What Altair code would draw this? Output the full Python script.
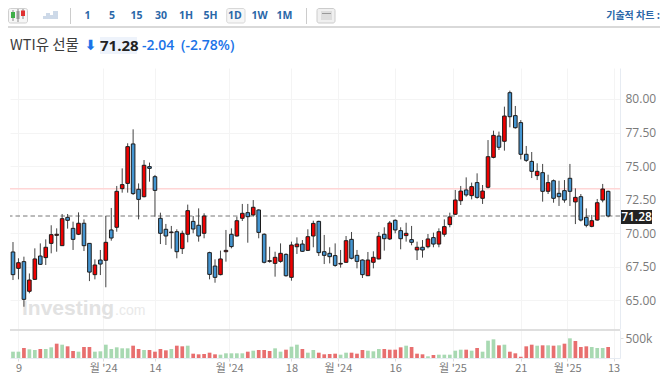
import json
import altair as alt
import pandas as pd

OPEN = [68.60,67.38,67.88,65.67,66.56,68.30,68.18,69.24,69.84,69.07,
        71.18,70.36,69.92,70.74,69.24,66.91,68.00,67.98,70.24,70.44,
        73.32,73.71,76.65,73.27,72.72,74.96,74.21,71.11,70.29,70.04,
        70.11,68.85,69.92,70.88,70.59,69.99,68.55,67.55,66.91,68.62,
        69.92,69.79,71.11,71.53,71.36,71.73,69.92,67.90,67.75,67.90,
        68.42,66.71,68.99,69.19,68.72,69.79,70.88,68.62,68.50,68.33,
        67.70,67.83,69.54,68.35,68.00,66.83,67.83,68.08,69.92,69.57,
        70.96,70.19,69.82,69.52,68.75,68.95,68.99,69.67,69.19,69.92,
        70.64,71.41,72.42,73.22,72.80,73.77,72.60,73.42,75.65,77.24,
        76.85,80.47,78.76,78.24,75.88,75.35,74.29,74.51,73.12,73.91,
        72.97,73.17,74.09,72.33,72.72,71.18,70.51,70.98,72.47,73.12]
CLOSE = [66.91,67.80,65.07,66.51,68.08,67.68,68.95,69.89,69.92,71.08,
         70.96,69.54,70.74,69.07,67.10,67.63,67.70,69.32,69.64,73.12,
         73.62,76.45,72.95,72.52,75.06,74.83,73.19,69.99,69.79,70.09,
         68.62,69.99,71.68,70.31,69.79,71.28,66.93,66.71,68.08,68.72,
         69.00,70.93,71.48,71.23,71.93,70.06,67.83,67.95,68.20,68.50,
         66.83,69.12,69.19,68.65,69.74,70.73,68.55,68.35,68.25,67.60,
         67.75,69.44,68.13,67.90,66.91,68.00,68.20,69.77,69.59,70.76,
         70.24,69.59,69.99,69.32,68.95,68.75,69.57,69.19,70.11,70.49,
         71.21,72.47,73.14,72.85,73.47,72.67,73.14,75.70,77.29,76.40,
         78.73,78.68,77.86,75.88,75.43,74.61,74.61,73.12,73.77,72.60,
         72.72,72.47,73.12,72.67,70.98,70.59,70.93,72.27,73.29,71.28]
HIGH = [69.34,68.13,68.25,67.00,68.87,69.24,69.54,70.59,70.36,71.43,
        71.43,70.86,71.55,71.03,69.24,68.05,68.75,71.28,71.88,73.52,
        74.83,76.70,77.74,73.71,75.45,75.26,74.34,71.53,70.69,70.54,
        70.29,70.19,72.13,71.28,71.85,71.48,68.62,68.05,68.70,70.24,
        70.36,71.23,72.18,72.18,72.47,71.78,69.99,68.99,68.62,69.24,
        68.50,69.37,69.69,69.49,70.29,70.93,70.93,69.87,68.95,69.24,
        68.75,69.79,70.09,68.75,68.05,68.60,68.65,70.09,70.44,70.91,
        71.03,70.44,70.78,70.54,69.37,69.49,69.94,70.04,70.36,71.03,
        71.53,73.22,73.52,74.16,73.77,74.46,73.59,76.94,77.64,77.57,
        79.43,80.62,79.48,78.43,76.50,76.05,75.21,75.16,74.36,74.00,
        73.91,73.96,75.16,73.34,72.92,71.85,71.36,72.55,73.67,73.17]
LOW = [66.51,66.56,64.52,65.52,66.51,67.63,67.63,68.50,68.62,69.05,
       70.34,68.75,69.86,68.67,66.43,66.56,66.88,65.97,69.44,70.11,
       73.02,73.02,72.85,71.03,72.67,73.84,71.23,69.19,69.12,68.85,
       68.13,68.45,69.32,69.99,69.37,69.62,66.56,66.31,66.86,67.88,
       68.87,69.74,70.91,69.29,71.23,69.62,67.75,67.80,66.76,67.80,
       66.76,66.46,68.45,68.60,68.67,68.95,68.30,67.70,67.75,67.50,
       67.43,67.80,68.05,67.38,66.66,66.81,67.38,68.05,68.70,69.49,
       69.99,68.80,69.37,69.10,68.00,68.18,68.87,68.95,68.95,69.74,
       70.44,71.36,72.10,72.72,72.52,72.57,72.18,73.34,75.58,76.20,
       76.15,77.89,77.79,75.50,75.31,74.11,73.96,72.35,72.92,72.27,
       72.03,72.27,72.03,70.68,70.88,70.44,70.44,70.93,72.30,71.18]
VOLUME_K = [158,158,250,217,200,225,225,267,358,333,
            292,175,158,275,275,158,167,333,225,267,
            242,242,308,225,200,200,158,225,192,225,
            308,292,308,108,92,100,133,92,83,117,
            117,117,117,158,183,200,200,175,242,158,
            208,283,333,225,133,200,133,92,100,108,
            83,133,133,108,200,183,167,225,225,208,
            208,267,308,275,108,92,42,75,83,83,
            83,183,208,208,183,250,158,433,467,317,
            333,158,117,33,292,333,308,317,317,308,
            317,358,492,425,275,292,275,250,250,275]
VOLUME_DIR = list("ggrggrggrg" "rrgrrggggg" "ggrrgrrrrg" "rrgrrrrrgg"
                  "gggrgrrrgg" "rggrggrrrr" "ggrrrgggrr" "rrgrrrgrgg"
                  "gggrgrggg" "r" "grrrrrgrgr" "grgrrrgggr")
TICK_POS = [1, 16.5, 26, 39.6, 51, 59.5, 70, 80.5, 93, 101.5, 110]
TICK_LABELS = ["9", "월 '24", "14", "월 '24", "18", "월 '24", "16", "월 '25", "21", "월 '25", "13"]
PRICE_TICKS = [65, 67.5, 70, 72.5, 75, 77.5, 80]
LAST_PRICE = 71.28
REF_PRICE = 73.32

KR = "Noto Sans CJK KR"
NUM = "Open Sans"
GRID = "#f4f4f4"
AXIS = "#e6ebf2"
LBL = "#7a7a7a"
ONE = alt.Data(values=[{}])

df = pd.DataFrame({"i": range(len(OPEN)), "o": OPEN, "h": HIGH, "l": LOW, "c": CLOSE,
                   "v": [v * 1000 for v in VOLUME_K], "vd": VOLUME_DIR})
df["up"] = df["c"] >= df["o"]

W, H = 610, 261
xs = alt.Scale(domain=[-0.549, 111.17], nice=False, zero=False, padding=0)
ys = alt.Scale(domain=[62.86, 82.31], nice=False, zero=False, padding=0)
vs = alt.Scale(domain=[0, 700000], nice=False, zero=False, padding=0)
label_expr = json.dumps({str(p): t for p, t in zip(TICK_POS, TICK_LABELS)}, ensure_ascii=False) + "[datum.value]"


# header helpers: page coordinates, minus the 8px page margin
def txt(s, px, py, size=12, color="#333333", weight="normal", font=KR, align="left"):
    return alt.Chart(ONE).mark_text(fontSize=size, color=color, fontWeight=weight, font=font,
                                    align=align, baseline="middle").encode(
        x=alt.value(px - 10), y=alt.value(py - 8), text=alt.value(s))


def box(x0, y0, x1, y1, fill, stroke=None, r=0):
    kw = {"fill": fill, "cornerRadius": r}
    if stroke:
        kw.update(stroke=stroke, strokeWidth=1)
    return alt.Chart(ONE).mark_rect(**kw).encode(
        x=alt.value(x0 - 10), x2=alt.value(x1 - 10), y=alt.value(y0 - 8), y2=alt.value(y1 - 8))


BLUEBTN = "#2a67a8"
header = [
    box(8, 26.5, 660, 27.5, "#b4b4b4"),
    box(8.5, 8.5, 27.5, 23, "#f6f6f6", "#cfcfcf", 2),
    box(12.5, 10, 13.5, 21, "#8a8a8a"), box(11, 12, 15, 18, "#3fae49"),
    box(17.5, 9, 18.5, 22, "#8a8a8a"), box(16.5, 11, 19.5, 19, "#9a9a9a"),
    box(22.5, 9, 23.5, 19, "#8a8a8a"), box(21, 10.5, 25, 16, "#e03030"),
    box(43, 16, 46, 19, "#cdd9e8"), box(46, 13, 50, 19, "#cdd9e8"),
    box(50, 15, 53, 19, "#cdd9e8"), box(53, 11, 58, 19, "#cdd9e8"),
    box(70, 8, 71, 24, "#cccccc"), box(306, 8, 307, 24, "#cccccc"),
    box(226.7, 8.5, 245, 23, "#f6f6f6", "#d8d8d8", 2),
    box(317, 8.5, 335, 23, "#f0f0f0", "#cccccc", 2),
    box(321, 11, 332, 20, "#dddddd"), box(322, 13, 331, 14, "#999999"),
    box(100, 37, 137, 54, "#eef3fb"),
]
for s, px in [("1", 87.5), ("5", 112), ("15", 136.5), ("30", 161), ("1H", 186), ("5H", 210.5),
              ("1D", 235), ("1W", 259.5), ("1M", 284.5)]:
    header.append(txt(s, px, 15.5, 10.5, BLUEBTN, "bold", NUM, "center"))
header += [
    txt("기술적 차트 :", 660, 15.5, 10, BLUEBTN, "bold", KR, "right"),
    txt("WTI유 선물", 10, 45.5, 14.5, "#3c3c3c"),
    txt("⬇", 90.5, 45.5, 14, "#1a73e8", "bold", "DejaVu Sans", "center"),
    txt("71.28", 100, 45.5, 15, "#222222", "bold", NUM),
    txt("-2.04", 142, 45.5, 14, "#1a73e8", 600, NUM),
    txt("(-2.78%)", 181, 45.5, 14, "#1a73e8", 600, NUM),
]
header_panel = alt.layer(*header).properties(width=W, height=60)

base = alt.Chart(df)
XAX = alt.Axis(values=TICK_POS, labels=False, ticks=False, domain=False, grid=True, gridColor=GRID, title=None)
YAX = alt.Axis(orient="right", values=PRICE_TICKS, format=".2f", grid=True, gridColor=GRID, title=None,
               tickSize=0, labelPadding=5, labelColor=LBL, labelFontSize=12, labelFont=NUM, domainColor=AXIS)
X = alt.X("i:Q", scale=xs, axis=XAX)
wm1 = alt.Chart(ONE).mark_text(text="Investing", font="Liberation Sans", fontWeight="bold", fontSize=21,
                               color="#e2e2e2", align="left", baseline="middle").encode(
    x=alt.value(12), y=alt.value(241))
wm2 = alt.Chart(ONE).mark_text(text=".com", font="Liberation Sans", fontSize=14,
                               color="#e9e9e9", align="left", baseline="middle").encode(
    x=alt.value(105), y=alt.value(243))
pink = alt.Chart(ONE).mark_rule(color="#ffd6d6", strokeWidth=1.5).encode(
    y=alt.Y(datum=REF_PRICE, scale=ys, axis=YAX))
dashed = alt.Chart(ONE).mark_rule(color="#777777", strokeWidth=1, strokeDash=[4.5, 3]).encode(
    y=alt.Y(datum=LAST_PRICE, scale=ys, axis=YAX))
wicks = base.mark_rule(color="#444444", strokeWidth=1).encode(
    x=X, y=alt.Y("l:Q", scale=ys, axis=YAX), y2="h:Q")
bodies = base.mark_bar(size=3.6, stroke="#1c1c1c", strokeWidth=1).encode(
    x=X, y=alt.Y("o:Q", scale=ys, axis=YAX), y2="c:Q",
    color=alt.Color("up:N", scale=alt.Scale(domain=[True, False], range=["#f00000", "#4495d1"]), legend=None))
tag_box = alt.Chart(ONE).mark_rect(color="#222222").encode(
    x=alt.value(W + 1), x2=alt.value(W + 32), y=alt.value(142), y2=alt.value(156))
tag_text = alt.Chart(ONE).mark_text(text="71.28", color="white", font=NUM, fontSize=12, fontWeight=600,
                                    align="center", baseline="middle").encode(
    x=alt.value(W + 16.5), y=alt.value(149))
price_panel = alt.layer(wm1, wm2, pink, dashed, wicks, bodies, tag_box, tag_text).properties(width=W, height=H)

vbars = base.mark_bar(size=3.7).encode(
    x=alt.X("i:Q", scale=xs, title=None,
            axis=alt.Axis(values=TICK_POS, labelExpr=label_expr, labelOverlap=False, labelFlush=False,
                          grid=True, gridColor=GRID, domainColor=AXIS, tickColor="#dddddd", tickSize=3,
                          labelPadding=1, labelColor=LBL, labelFontSize=11, labelFont=KR)),
    y=alt.Y("v:Q", scale=vs, title=None,
            axis=alt.Axis(orient="right", values=[500000], labelExpr="'500k'", grid=False, tickSize=3,
                          tickColor="#dddddd", labelPadding=2, labelColor=LBL, labelFontSize=12, labelFont=NUM,
                          domainColor=AXIS)),
    color=alt.Color("vd:N", scale=alt.Scale(domain=["r", "g"], range=["#e86f6f", "#a8d9b2"]), legend=None),
)
topline = alt.Chart(ONE).mark_rule(color="#d4d4d4", strokeWidth=1.5).encode(y=alt.value(0))
volume_panel = alt.layer(vbars, topline).properties(width=W, height=28)

chart = alt.vconcat(header_panel, price_panel, volume_panel, spacing=0).properties(
    padding=0, background="white"
).resolve_scale(x="independent", y="independent", color="independent").configure_view(strokeWidth=0)

chart.save("out.html", embed_options={"renderer": "svg", "actions": False})
